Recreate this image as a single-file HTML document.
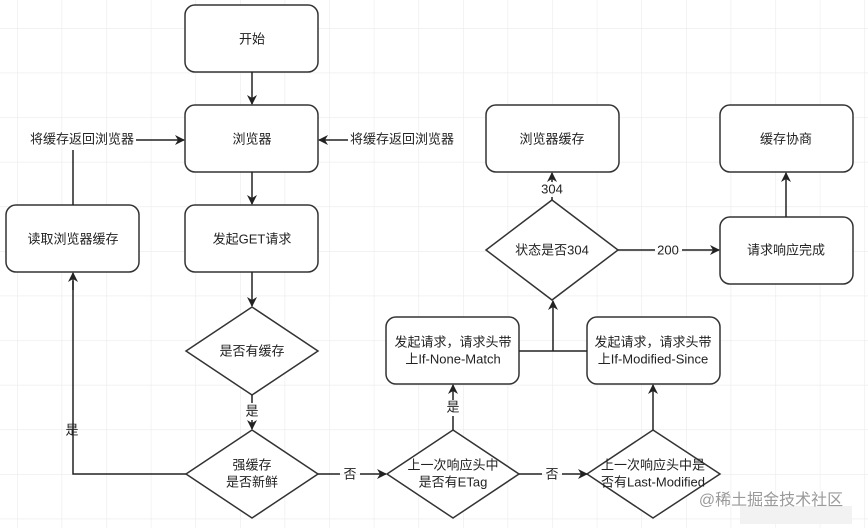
<!DOCTYPE html>
<html><head><meta charset="utf-8"><style>
html,body{margin:0;padding:0;background:#fff}
svg{display:block}
text{font-family:"Liberation Sans","Noto Sans CJK SC",sans-serif;font-size:13px;fill:#222;text-anchor:middle;dominant-baseline:middle}
</style></head><body>
<svg width="868" height="528" viewBox="0 0 868 528" xmlns="http://www.w3.org/2000/svg">
<defs>
<pattern id="g" width="44.6" height="44.6" patternUnits="userSpaceOnUse" x="17" y="28">
<path d="M0 0H44.6M0 0V44.6" stroke="#ebebeb" stroke-width="1.2" fill="none"/>
</pattern>
<marker id="a" markerWidth="10" markerHeight="10" refX="9" refY="5" orient="auto" markerUnits="userSpaceOnUse">
<path d="M0 0L10 5L0 10L3 5Z" fill="#222"/>
</marker>
</defs>
<rect width="868" height="528" fill="url(#g)"/>
<g fill="#fff" stroke="#333" stroke-width="1.5">
<rect x="185" y="5" width="133" height="67" rx="10"/>
<rect x="185" y="105" width="133" height="67" rx="10"/>
<rect x="185" y="205" width="133" height="67" rx="10"/>
<rect x="6" y="205" width="133" height="67" rx="10"/>
<rect x="486" y="105" width="133" height="67" rx="10"/>
<rect x="720" y="105" width="133" height="67" rx="10"/>
<rect x="720" y="217" width="133" height="67" rx="10"/>
<rect x="386" y="317" width="133" height="67" rx="10"/>
<rect x="587" y="317" width="133" height="67" rx="10"/>
<path d="M552 200L618 250L552 300L486 250Z"/>
<path d="M252 307L318 351L252 395L186 351Z"/>
<path d="M252 430L318 474L252 518L186 474Z"/>
<path d="M453 430L519 474L453 518L387 474Z"/>
<path d="M653 430L720 474L653 518L587 474Z"/>
</g>
<g stroke="#222" stroke-width="1.5" fill="none">
<line x1="252" y1="72" x2="252" y2="104" marker-end="url(#a)"/>
<line x1="252" y1="172" x2="252" y2="204" marker-end="url(#a)"/>
<line x1="252" y1="272" x2="252" y2="306" marker-end="url(#a)"/>
<line x1="252" y1="395" x2="252" y2="403"/>
<line x1="252" y1="420" x2="252" y2="429" marker-end="url(#a)"/>
<path d="M186 474H73V281"/><line x1="73" y1="290" x2="73" y2="273" marker-end="url(#a)"/>
<line x1="73" y1="205" x2="73" y2="150"/>
<line x1="136" y1="140" x2="184" y2="140" marker-end="url(#a)"/>
<line x1="348" y1="140" x2="319" y2="140" marker-end="url(#a)"/>
<line x1="318" y1="474" x2="340" y2="474"/>
<line x1="360" y1="474" x2="386" y2="474" marker-end="url(#a)"/>
<line x1="519" y1="474" x2="542" y2="474"/>
<line x1="562" y1="474" x2="587" y2="474" marker-end="url(#a)"/>
<line x1="453" y1="430" x2="453" y2="416"/>
<line x1="453" y1="400" x2="453" y2="385" marker-end="url(#a)"/>
<line x1="653" y1="430" x2="653" y2="385" marker-end="url(#a)"/>
<line x1="519" y1="351" x2="587" y2="351"/>
<line x1="553" y1="351" x2="553" y2="301" marker-end="url(#a)"/>
<line x1="552" y1="200" x2="552" y2="197"/>
<line x1="552" y1="182" x2="552" y2="173" marker-end="url(#a)"/>
<line x1="618" y1="250" x2="655" y2="250"/>
<line x1="682" y1="250" x2="719" y2="250" marker-end="url(#a)"/>
<line x1="786" y1="217" x2="786" y2="173" marker-end="url(#a)"/>
</g>
<text x="252" y="40">开始</text>
<text x="252" y="140">浏览器</text>
<text x="252" y="240">发起GET请求</text>
<text x="73" y="240">读取浏览器缓存</text>
<text x="82" y="140">将缓存返回浏览器</text>
<text x="402" y="140">将缓存返回浏览器</text>
<text x="552" y="140">浏览器缓存</text>
<text x="786" y="140">缓存协商</text>
<text x="786" y="251">请求响应完成</text>
<text x="552" y="251">状态是否304</text>
<text x="552" y="190">304</text>
<text x="668" y="251">200</text>
<text x="252" y="352">是否有缓存</text>
<text x="252" y="412">是</text>
<text x="252" y="466">强缓存</text>
<text x="252" y="483">是否新鲜</text>
<text x="72" y="431">是</text>
<text x="350" y="475">否</text>
<text x="552" y="475">否</text>
<text x="453" y="408">是</text>
<text x="453" y="466">上一次响应头中</text>
<text x="453" y="483">是否有ETag</text>
<text x="653" y="466">上一次响应头中是</text>
<text x="653" y="483">否有Last-Modified</text>
<text x="453" y="343">发起请求，请求头带</text>
<text x="453" y="360">上If-None-Match</text>
<text x="653" y="343">发起请求，请求头带</text>
<text x="653" y="360">上If-Modified-Since</text>
<rect x="740" y="506" width="112" height="18" fill="#f2f2f2"/>
<text x="771" y="501" style="font-size:16px;fill:#9a9a9a">@稀土掘金技术社区</text>
</svg>
</body></html>
